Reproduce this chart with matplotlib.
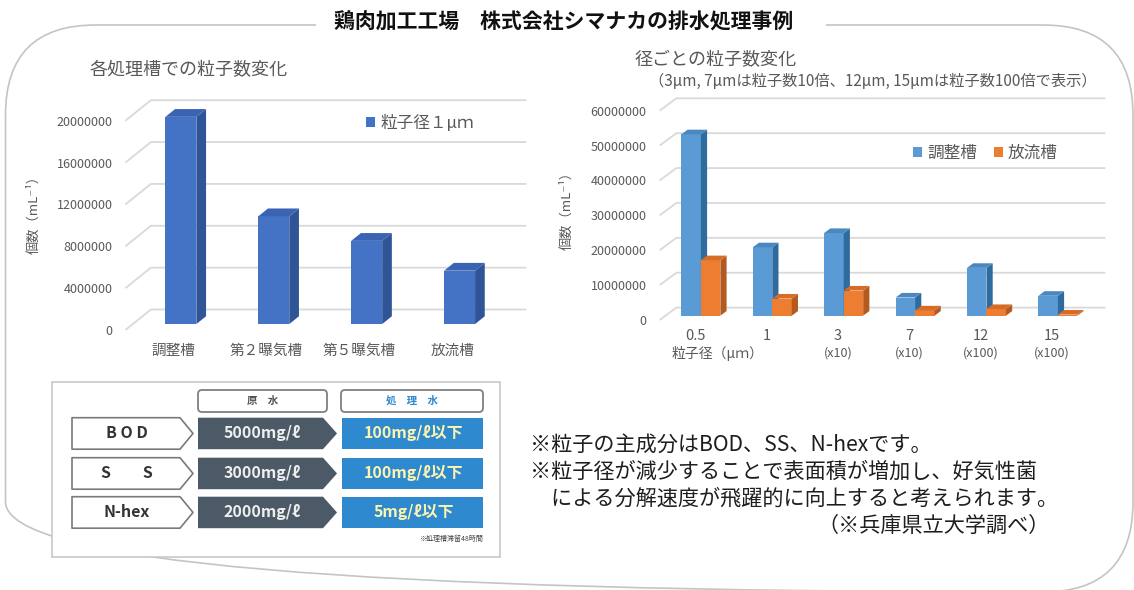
import numpy as np
import matplotlib
matplotlib.use("Agg")
import matplotlib.pyplot as plt
from matplotlib.patches import Polygon, Rectangle, FancyBboxPatch
from matplotlib.transforms import blended_transform_factory

plt.rcParams['font.family'] = ['Noto Sans CJK JP', 'DejaVu Sans']

W, H = 1134, 590

# left chart: particle count per tank (1 um)
tanks = ['調整槽', '第２曝気槽', '第５曝気槽', '放流槽']
count_1um = [19800000, 10300000, 7950000, 5100000]
left_ticks = [0, 4000000, 8000000, 12000000, 16000000, 20000000]

# right chart: particle count per diameter
sizes = ['0.5', '1', '3', '7', '12', '15']
scales = ['', '', '(x10)', '(x10)', '(x100)', '(x100)']
inflow = [52000000, 19600000, 23700000, 5200000, 13700000, 5700000]
outflow = [15900000, 4900000, 7200000, 1500000, 1900000, 300000]
right_ticks = [0, 10000000, 20000000, 30000000, 40000000, 50000000, 60000000]

# table
items = ['B O D', 'S　　S', 'N-hex']
raw_water = ['5000mg/ℓ', '3000mg/ℓ', '2000mg/ℓ']
treated = ['100mg/ℓ以下', '100mg/ℓ以下', '5mg/ℓ以下']

notes = ['※粒子の主成分はBOD、SS、N-hexです。',
         '※粒子径が減少することで表面積が増加し、好気性菌',
         '　による分解速度が飛躍的に向上すると考えられます。']
source = '（※兵庫県立大学調べ）'

grey = '#595959'
gridc = '#d9d9d9'

fig = plt.figure(figsize=(W / 100, H / 100), dpi=100)

bg = fig.add_axes([0, 0, 1, 1])
bg.set_xlim(0, W)
bg.set_ylim(H, 0)
bg.axis('off')


def px_axes(l, t, r, b):
    ax = fig.add_axes([l / W, 1 - b / H, (r - l) / W, (b - t) / H])
    ax.set_facecolor('none')
    for s in ax.spines.values():
        s.set_visible(False)
    return ax


def bars3d(ax, xl, vals, w, base, ddx, ddy, cf, cs, ct, label=None):
    cont = ax.bar(xl, vals, w, bottom=base, align='edge', color=cf, lw=0, zorder=3, label=label)
    for x0, v in zip(xl, vals):
        top = base + v
        ax.add_patch(Polygon([(x0 + w, base), (x0 + w + ddx, base + ddy),
                              (x0 + w + ddx, top + ddy), (x0 + w, top)], fc=cs, lw=0, zorder=3))
        ax.add_patch(Polygon([(x0, top), (x0 + ddx, top + ddy),
                              (x0 + w + ddx, top + ddy), (x0 + w, top)], fc=ct, lw=0, zorder=3))
    return cont


def walls(ax, ticks, xs, xe, dx, dy):
    for t in ticks:
        ax.plot([xs, xs + dx, xe], [t, t + dy, t + dy], color=gridc, lw=1.3, zorder=1,
                solid_capstyle='butt')


# ---- frame and main title
bg.add_patch(FancyBboxPatch((5.5, 25), 1127.5, 567, boxstyle='round,pad=0,rounding_size=90',
                            fc='none', ec='#c4c4c4', lw=1.2))
bg.add_patch(Rectangle((316, 14), 510, 22, fc='white', ec='none'))
bg.text(564, 22, '鶏肉加工工場　株式会社シマナカの排水処理事例', fontsize=15,
        fontweight='bold', color='#111111', ha='center', va='center')

# ---- left chart
axl = px_axes(118, 92, 535, 340)
c0, sp, k = 173.5, 92.9, 10.465e-6
axl.set_xlim((118 - c0) / sp, (535 - c0) / sp)
axl.set_ylim((330 - 340) / k, (330 - 92) / k)
Dx, Dy = 25.5 / sp, 20.5 / k
walls(axl, left_ticks, (125.4 - c0) / sp, (526.4 - c0) / sp, Dx, Dy)
f0, fd, bw = 0.29, 0.38, 0.333
xl = np.arange(len(tanks)) + f0 * Dx - bw / 2
cl = bars3d(axl, xl, count_1um, bw, f0 * Dy, fd * Dx, fd * Dy,
            '#4472c4', '#2f5597', '#3a63b3', label='粒子径１μｍ')
axl.set_yticks(left_ticks)
axl.set_yticklabels([str(t) for t in left_ticks])
axl.set_xticks(range(len(tanks)))
axl.set_xticklabels(tanks)
axl.tick_params(axis='y', length=0, pad=4, labelsize=9, labelcolor=grey)
axl.tick_params(axis='x', length=0, pad=3, labelsize=10.5, labelcolor=grey)
axl.legend(handles=[cl], loc='center left', bbox_to_anchor=((366 - 118) / 417, 1 - (123 - 92) / 248),
           frameon=False, fontsize=12, labelcolor=grey, handlelength=0.55, handleheight=0.55,
           handletextpad=0.3, borderpad=0, borderaxespad=0)
bg.text(89, 70, '各処理槽での粒子数変化', fontsize=13, color=grey, ha='left', va='center')
bg.text(34, 212, '個数（mL⁻¹）', fontsize=9.5, color=grey, rotation=90, ha='center', va='center')

# ---- right chart
axr = px_axes(652, 92, 1110, 326)
c0, sp, k = 695.0, 71.4, 3.488e-6
axr.set_xlim((652 - c0) / sp, (1110 - c0) / sp)
axr.set_ylim((320 - 326) / k, (320 - 92) / k)
Dx, Dy = 16.8 / sp, 12.4 / k
walls(axr, right_ticks, (659.6 - c0) / sp, (1105.4 - c0) / sp, Dx, Dy)
f0, fd, bw = 0.35, 0.37, 0.273
xc = np.arange(len(sizes)) + f0 * Dx
cb = bars3d(axr, xc - bw, inflow, bw, f0 * Dy, fd * Dx, fd * Dy,
            '#5b9bd5', '#2e6b9f', '#4a88c2', label='調整槽')
co = bars3d(axr, xc, outflow, bw, f0 * Dy, fd * Dx, fd * Dy,
            '#ed7d31', '#b35b1f', '#d66c26', label='放流槽')
axr.set_yticks(right_ticks)
axr.set_yticklabels([str(t) for t in right_ticks])
axr.set_xticks(range(len(sizes)))
axr.set_xticklabels(sizes)
axr.tick_params(axis='y', length=0, pad=4, labelsize=9, labelcolor=grey)
axr.tick_params(axis='x', length=0, pad=2, labelsize=10.5, labelcolor=grey)
tr = blended_transform_factory(axr.transData, axr.transAxes)
ysub = 1 - (353 - 92) / 234
for i, s in enumerate(scales):
    if s:
        axr.text(i, ysub, s, transform=tr, fontsize=9, color=grey, ha='center', va='center')
axr.text((718 - c0) / sp, ysub, '粒子径（μｍ）', transform=tr, fontsize=10, color=grey,
         ha='center', va='center')
axr.legend(handles=[cb, co], loc='center left', ncol=2,
           bbox_to_anchor=((913 - 652) / 458, 1 - (153 - 92) / 234),
           frameon=False, fontsize=12, labelcolor=grey, handlelength=0.55, handleheight=0.55,
           handletextpad=0.3, columnspacing=1.0, borderpad=0, borderaxespad=0)
bg.text(635, 60, '径ごとの粒子数変化', fontsize=13, color=grey, ha='left', va='center')
bg.text(649, 81, '（3μm, 7μmは粒子数10倍、12μm, 15μmは粒子数100倍で表示）', fontsize=11,
        color=grey, ha='left', va='center')
bg.text(567, 207, '個数（mL⁻¹）', fontsize=9.5, color=grey, rotation=90, ha='center', va='center')

# ---- table
bg.add_patch(Rectangle((52, 382), 448, 175, fc='white', ec='#c8c8c8', lw=1.2))
for (x0, x1, txt, col) in [(198, 327, '原　水', '#555555'), (341, 483, '処　理　水', '#2f89cf')]:
    bg.add_patch(FancyBboxPatch((x0, 390), x1 - x0, 22, boxstyle='round,pad=0,rounding_size=4',
                                fc='white', ec='#808080', lw=1.3))
    bg.text((x0 + x1) / 2, 401, txt, fontsize=7.5, fontweight='bold', color=col,
            ha='center', va='center')
row_top = [417.7, 457.7, 496.7]
row_h = 31.5
for i, y0 in enumerate(row_top):
    y1, ym = y0 + row_h, y0 + row_h / 2
    bg.add_patch(Polygon([(72, y0), (180, y0), (193, ym), (180, y1), (72, y1)],
                         fc='white', ec='#7a7a7a', lw=1.2, joinstyle='round'))
    bg.text(126.5, ym, items[i], fontsize=11.5, fontweight='bold', color='#333333',
            ha='center', va='center')
    bg.add_patch(Polygon([(198, y0), (323, y0), (337, ym), (323, y1), (198, y1)],
                         fc='#4b5a66', ec='none'))
    bg.text(262.5, ym, raw_water[i], fontsize=11.5, fontweight='bold', color='#eeeeee',
            ha='center', va='center')
    bg.add_patch(Rectangle((342, y0), 141, row_h, fc='#2f89cf', ec='none'))
    bg.text(414, ym, treated[i], fontsize=11.5, fontweight='bold', color='#fbf5b0',
            ha='center', va='center')
bg.text(483, 539, '※処理槽滞留48時間', fontsize=5, color='#444444', ha='right', va='center')

# ---- notes
for txt, y in zip(notes, [445, 472, 499]):
    bg.text(530, y, txt, fontsize=15.2, color='#1e1e1e', ha='left', va='center')
bg.text(1050, 526, source, fontsize=15.2, color='#1e1e1e', ha='right', va='center')

fig.savefig('out.png', dpi=100)
